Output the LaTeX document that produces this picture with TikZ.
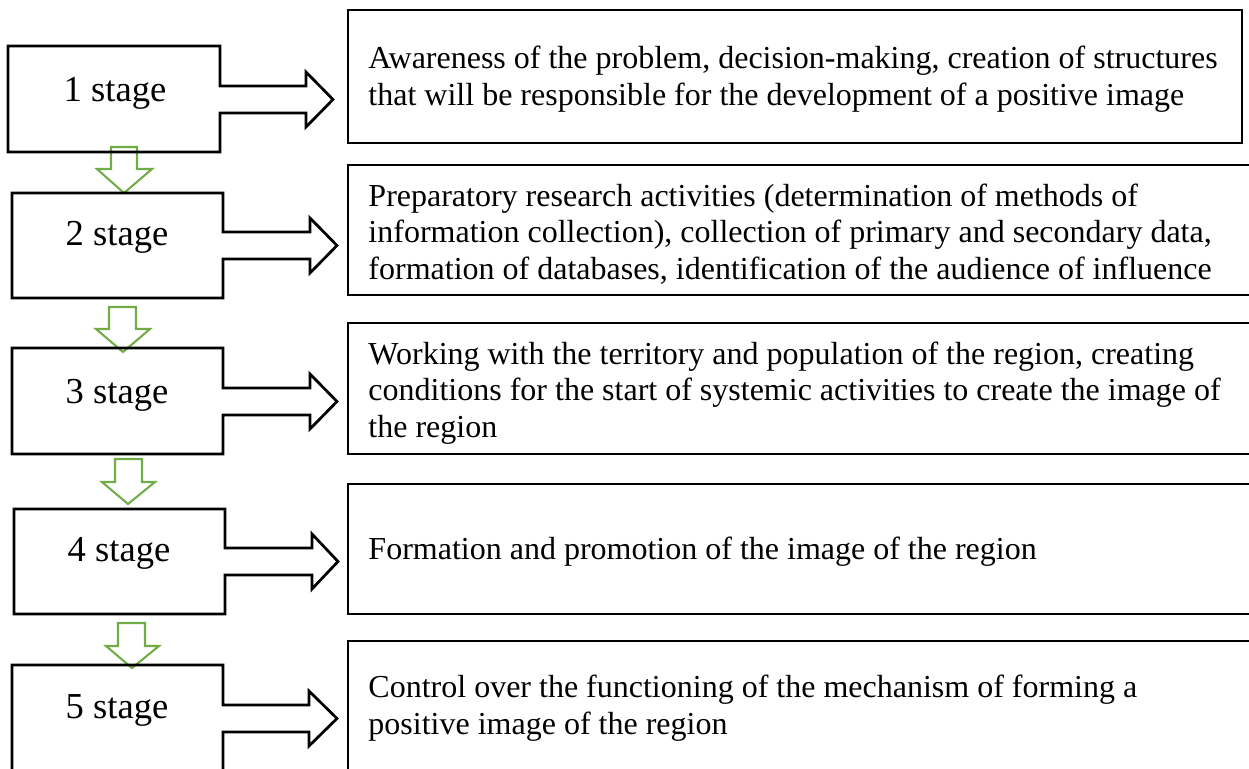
\documentclass[tikz,border=0pt]{standalone}
\usepackage{fontspec}
\setmainfont{Liberation Serif}
\usetikzlibrary{fit}
\definecolor{arrowgreen}{RGB}{112,173,71}
\begin{document}
\begin{tikzpicture}[x=0.4375pt,y=-0.4375pt,
  boxline/.style={line width=1.2pt, line join=miter},
  greenarrow/.style={draw=arrowgreen, line width=0.9pt, line join=miter},
  stagetext/.style={font=\fontsize{16}{19}\selectfont, inner sep=0},
  desctext/.style={font=\fontsize{14}{16.1}\selectfont, align=left, anchor=west, inner sep=0},
  descbox/.style={draw, line width=1.2pt, inner sep=0}]
\useasboundingbox (0,0) rectangle (1249,769);

% green down arrows
\draw[greenarrow] (111,147) -- (111,169) -- (97,169) -- (124,193) -- (152,169) -- (137,169) -- (137,147) -- cycle;
\draw[greenarrow] (109,307) -- (109,329) -- (96,329) -- (123,352) -- (150,329) -- (136,329) -- (136,307) -- cycle;
\draw[greenarrow] (115,459) -- (115,482) -- (102,482) -- (128,504) -- (155,482) -- (142,482) -- (142,459) -- cycle;
\draw[greenarrow] (118,623) -- (118,646) -- (106,646) -- (132,668) -- (159,646) -- (145,646) -- (145,623) -- cycle;

% stage boxes merged with block arrows
\draw[boxline] (220,86) -- (220,46) -- (8,46) -- (8,152) -- (220,152) -- (220,113) -- (306,113) -- (306,127) -- (333,99.5) -- (306,72) -- (306,86) -- cycle;
\draw[boxline] (223,232) -- (223,193) -- (12,193) -- (12,298) -- (223,298) -- (223,259) -- (310,259) -- (310,273) -- (337,245.5) -- (310,218) -- (310,232) -- cycle;
\draw[boxline] (223,388) -- (223,348) -- (12,348) -- (12,454) -- (223,454) -- (223,415) -- (310,415) -- (310,429) -- (337,401.5) -- (310,374) -- (310,388) -- cycle;
\draw[boxline] (225,548) -- (225,509) -- (14,509) -- (14,614) -- (225,614) -- (225,575) -- (312,575) -- (312,589) -- (338,561.5) -- (312,534) -- (312,548) -- cycle;
\draw[boxline] (223,705) -- (223,665) -- (12,665) -- (12,800) -- (223,800) -- (223,732) -- (309,732) -- (309,746) -- (337,718.5) -- (309,691) -- (309,705) -- cycle;

\node[stagetext] (t1) at (115,93) {1 stage};
\node[stagetext] (t2) at (117,237) {2 stage};
\node[stagetext] (t3) at (117,395) {3 stage};
\node[stagetext] (t4) at (119,553) {4 stage};
\node[stagetext] (t5) at (117,710) {5 stage};

% description boxes
\node[descbox, fit={(348,10)(1242,143)}] (r1) {};
\node[descbox, fit={(348,165)(1262,295)}] (r2) {};
\node[descbox, fit={(348,323)(1262,454)}] (r3) {};
\node[descbox, fit={(348,484)(1262,614)}] (r4) {};
\node[descbox, fit={(348,641)(1262,800)}] (r5) {};

\node[desctext] (d1) at (368,79) {Awareness of the problem, decision-making, creation of structures\\that will be responsible for the development of a positive image};
\node[desctext] (d2) at (368,234) {Preparatory research activities (determination of methods of\\information collection), collection of primary and secondary data,\\formation of databases, identification of the audience of influence};
\node[desctext] (d3) at (368,393) {Working with the territory and population of the region, creating\\conditions for the start of systemic activities to create the image of\\the region};
\node[desctext] (d4) at (368,552) {Formation and promotion of the image of the region};
\node[desctext] (d5) at (368,708) {Control over the functioning of the mechanism of forming a\\positive image of the region};
\end{tikzpicture}
\end{document}
